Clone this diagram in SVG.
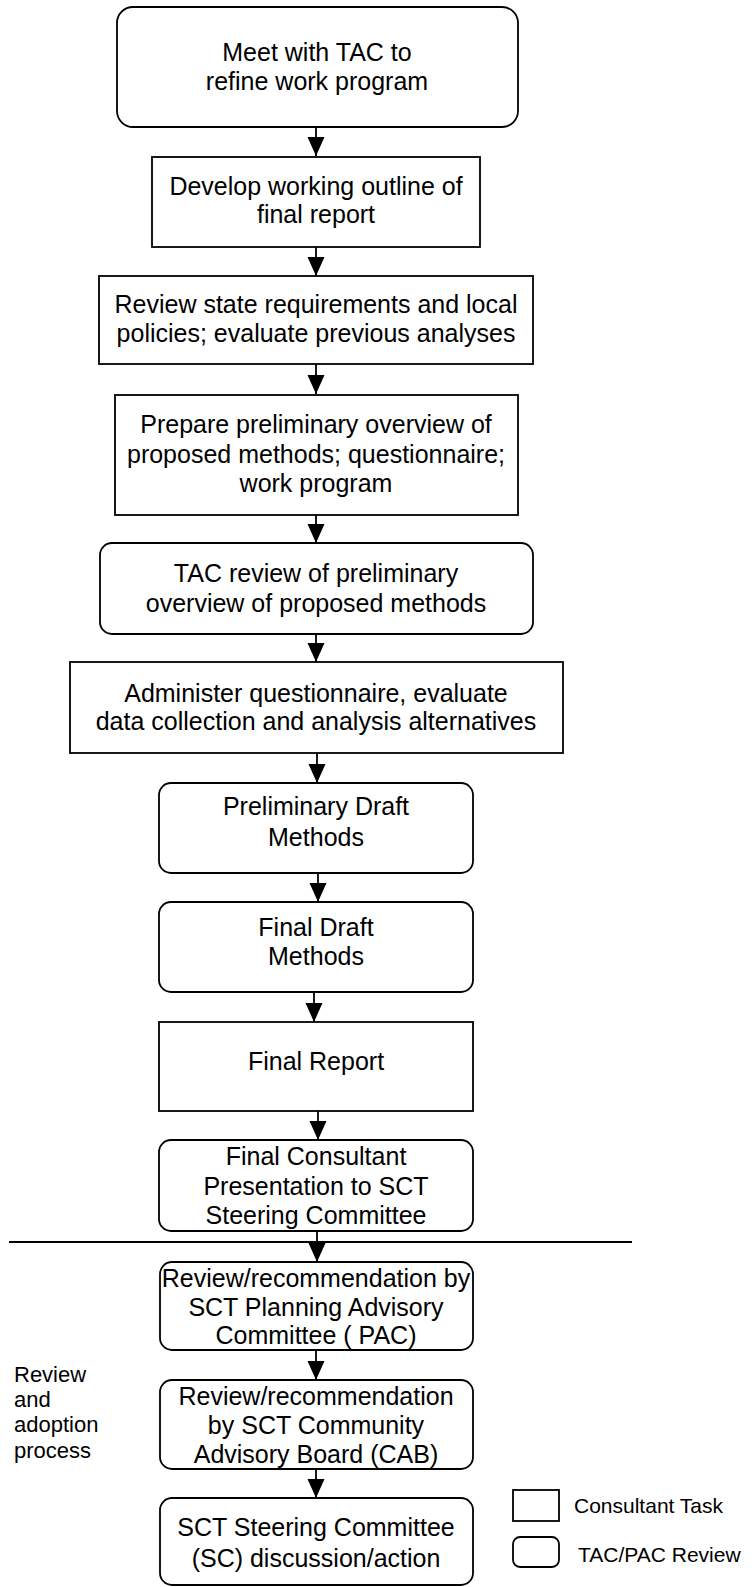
<svg xmlns="http://www.w3.org/2000/svg" width="756" height="1587" viewBox="0 0 756 1587">
<style>
.box{fill:#fff;stroke:#000;stroke-width:1.8}
.t{font-family:"Liberation Sans",Arial,sans-serif;font-size:25px;fill:#000;text-anchor:middle}
.s{font-family:"Liberation Sans",Arial,sans-serif;font-size:21px;fill:#000}
.l{font-family:"Liberation Sans",Arial,sans-serif;font-size:22px;fill:#000}
.c{stroke:#000;stroke-width:1.8;fill:none;marker-end:url(#ah)}
</style>
<defs>
<marker id="ah" markerUnits="userSpaceOnUse" markerWidth="20" markerHeight="18" refX="19" refY="8.5" orient="auto" viewBox="0 0 20 18">
<path d="M0,0 L19,8.5 L0,17 z" fill="#000"/>
</marker>
</defs>
<rect width="756" height="1587" fill="#fff"/>
<g id="connectors">
<line class="c" x1="316" y1="127" x2="316" y2="156"/>
<line class="c" x1="316" y1="247" x2="316" y2="276"/>
<line class="c" x1="316" y1="364" x2="316" y2="394"/>
<line class="c" x1="316" y1="515" x2="316" y2="543"/>
<line class="c" x1="316" y1="634" x2="316" y2="662"/>
<line class="c" x1="317" y1="753" x2="317" y2="783"/>
<line class="c" x1="318" y1="873" x2="318" y2="902"/>
<line class="c" x1="314" y1="992" x2="314" y2="1022"/>
<line class="c" x1="318" y1="1111" x2="318" y2="1140"/>
<line class="c" x1="317" y1="1231" x2="317" y2="1262"/>
<line class="c" x1="316" y1="1350" x2="316" y2="1380"/>
<line class="c" x1="316" y1="1469" x2="316" y2="1498"/>
</g>
<g id="separator">
<line x1="9" y1="1242" x2="632" y2="1242" stroke="#000" stroke-width="2"/>
</g>
<g id="n1">
<rect class="box" x="117" y="7" width="401" height="120" rx="16"/>
<text class="t" x="317" y="61">Meet with TAC to</text>
<text class="t" x="317" y="90">refine work program</text>
</g>
<g id="n2">
<rect class="box" x="152" y="157" width="328" height="90"/>
<text class="t" x="316" y="195">Develop working outline of</text>
<text class="t" x="316" y="223">final report</text>
</g>
<g id="n3">
<rect class="box" x="99" y="276" width="434" height="88"/>
<text class="t" x="316" y="313">Review state requirements and local</text>
<text class="t" x="316" y="342">policies; evaluate previous analyses</text>
</g>
<g id="n4">
<rect class="box" x="115" y="395" width="403" height="120"/>
<text class="t" x="316" y="433">Prepare preliminary overview of</text>
<text class="t" x="316" y="463">proposed methods; questionnaire;</text>
<text class="t" x="316" y="492">work program</text>
</g>
<g id="n5">
<rect class="box" x="100" y="543" width="433" height="91" rx="12"/>
<text class="t" x="316" y="582">TAC review of preliminary</text>
<text class="t" x="316" y="612">overview of proposed methods</text>
</g>
<g id="n6">
<rect class="box" x="70" y="662" width="493" height="91"/>
<text class="t" x="316" y="702">Administer questionnaire, evaluate</text>
<text class="t" x="316" y="730">data collection and analysis alternatives</text>
</g>
<g id="n7">
<rect class="box" x="159" y="783" width="314" height="90" rx="12"/>
<text class="t" x="316" y="815">Preliminary Draft</text>
<text class="t" x="316" y="846">Methods</text>
</g>
<g id="n8">
<rect class="box" x="159" y="902" width="314" height="90" rx="12"/>
<text class="t" x="316" y="936">Final Draft</text>
<text class="t" x="316" y="965">Methods</text>
</g>
<g id="n9">
<rect class="box" x="159" y="1022" width="314" height="89"/>
<text class="t" x="316" y="1070">Final Report</text>
</g>
<g id="n10">
<rect class="box" x="159" y="1140" width="314" height="91" rx="12"/>
<text class="t" x="316" y="1165">Final Consultant</text>
<text class="t" x="316" y="1195">Presentation to SCT</text>
<text class="t" x="316" y="1224">Steering Committee</text>
</g>
<g id="n11">
<rect class="box" x="160" y="1262" width="313" height="88" rx="12"/>
<text class="t" x="316" y="1287">Review/recommendation by</text>
<text class="t" x="316" y="1316">SCT Planning Advisory</text>
<text class="t" x="316" y="1344">Committee ( PAC)</text>
</g>
<g id="n12">
<rect class="box" x="160" y="1380" width="313" height="89" rx="12"/>
<text class="t" x="316" y="1405">Review/recommendation</text>
<text class="t" x="316" y="1434">by SCT Community</text>
<text class="t" x="316" y="1463">Advisory Board (CAB)</text>
</g>
<g id="n13">
<rect class="box" x="160" y="1498" width="313" height="87" rx="12"/>
<text class="t" x="316" y="1536">SCT Steering Committee</text>
<text class="t" x="316" y="1567">(SC) discussion/action</text>
</g>
<g id="side-label">
<text class="l" x="14" y="1382">Review</text>
<text class="l" x="14" y="1407">and</text>
<text class="l" x="14" y="1432">adoption</text>
<text class="l" x="14" y="1458">process</text>
</g>
<g id="legend">
<rect class="box" x="513" y="1490" width="46" height="31"/>
<text class="s" x="574" y="1513">Consultant Task</text>
<rect class="box" x="513" y="1537" width="46" height="30" rx="7"/>
<text class="s" x="578" y="1562">TAC/PAC Review</text>
</g>
</svg>
